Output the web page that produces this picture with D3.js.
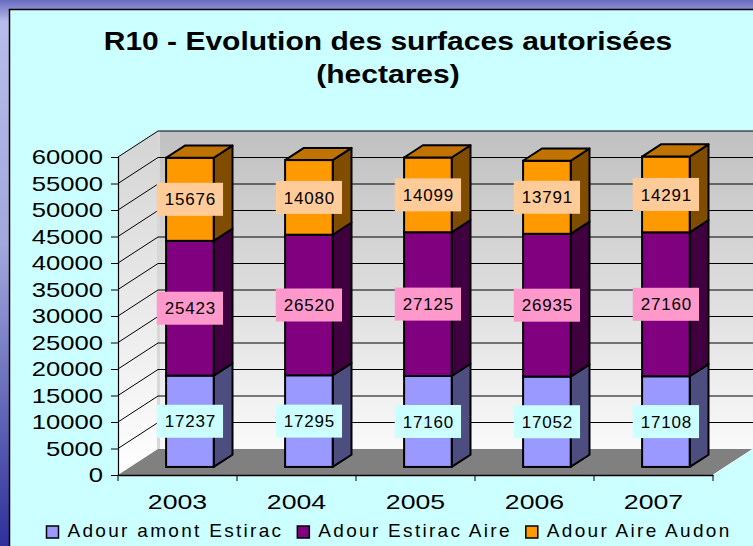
<!DOCTYPE html>
<html>
<head>
<meta charset="utf-8">
<script src="https://cdn.jsdelivr.net/npm/d3@7"></script>
<style>
  html, body { margin: 0; padding: 0; overflow: hidden; background: #fff; }
  text { font-family: Arial, "Liberation Sans", sans-serif; fill: #000; }
</style>
</head>
<body>
<svg id="chart" width="753" height="546"></svg>
<script>
// ── Data ───────────────────────────────────────────────────
const years        = ['2003', '2004', '2005', '2006', '2007'];
const seriesNames  = ['Adour amont Estirac', 'Adour Estirac Aire', 'Adour Aire Audon'];
const amontEstirac = [17237, 17295, 17160, 17052, 17108];
const estiracAire  = [25423, 26520, 27125, 26935, 27160];
const aireAudon    = [15676, 14080, 14099, 13791, 14291];
const yTickValues  = [0, 5000, 10000, 15000, 20000, 25000, 30000, 35000, 40000, 45000, 50000, 55000, 60000];

// ── Layout / style ─────────────────────────────────────────
const W = 753, H = 546;
const PLOT_L = 118, PLOT_R = 713;   // front edge of the floor
const PLOT_B = 475, PLOT_T = 157;   // front plane, 0 .. 60000
const DEPTH_X = 40, DEPTH_Y = 26;   // 3D depth offset of the walls
const BAR_F = 0.31, BAR_B = 0.78;   // bar front/back as a fraction of depth
const BAR_W = 0.4;                  // bar width as fraction of band
const TEXT_STRETCH = 1.22;          // the source picture has wide glyphs

const FRONT = ['#9999FF', '#800080', '#FF9900'];
const SIDE  = ['#4D4D80', '#400040', '#804D00'];
const TOP   = ['#8080D0', '#600060', '#C07300'];
const LABEL_BG = ['#CCFFFF', '#FF99CC', '#FFCC99'];

// widen text glyphs horizontally
function stretchText(sel, k) {
  sel.each(function() {
    const len = this.getComputedTextLength();
    d3.select(this).attr('textLength', len * k).attr('lengthAdjust', 'spacingAndGlyphs');
  });
}

const svg = d3.select('#chart');
const defs = svg.append('defs');

const bgGrad = defs.append('linearGradient').attr('id', 'slideBg')
  .attr('x1', 0).attr('y1', 0).attr('x2', 0).attr('y2', 1);
bgGrad.append('stop').attr('offset', '0%').attr('stop-color', '#6A6CC0');
bgGrad.append('stop').attr('offset', '4%').attr('stop-color', '#B8BCEA');
bgGrad.append('stop').attr('offset', '45%').attr('stop-color', '#A0A8DC');
bgGrad.append('stop').attr('offset', '100%').attr('stop-color', '#30309A');

const wallGrad = defs.append('linearGradient').attr('id', 'wallGrad')
  .attr('x1', 0).attr('y1', 0).attr('x2', 0).attr('y2', 1);
wallGrad.append('stop').attr('offset', '0%').attr('stop-color', '#C0C0C0');
wallGrad.append('stop').attr('offset', '100%').attr('stop-color', '#FAFAFA');

const sideWallGrad = defs.append('linearGradient').attr('id', 'sideWallGrad')
  .attr('x1', 0).attr('y1', 0).attr('x2', 0).attr('y2', 1);
sideWallGrad.append('stop').attr('offset', '0%').attr('stop-color', '#D4D4D4');
sideWallGrad.append('stop').attr('offset', '100%').attr('stop-color', '#FFFFFF');

// ── Background ─────────────────────────────────────────────
svg.append('rect').attr('width', W).attr('height', H).attr('fill', 'url(#slideBg)');
svg.append('rect')
  .attr('x', 9.5).attr('y', 9.5).attr('width', W + 20).attr('height', H + 20)
  .attr('fill', '#CCFFFF').attr('stroke', '#000').attr('stroke-width', 1.5);

// ── Title ──────────────────────────────────────────────────
const titleLines = ['R10 - Evolution des surfaces autorisées', '(hectares)'];
svg.append('g').selectAll('text').data(titleLines).enter().append('text')
  .attr('x', 388).attr('y', (d, i) => 50 + i * 33)
  .attr('text-anchor', 'middle')
  .style('font-size', '25px').style('font-weight', 'bold')
  .text(d => d)
  .call(stretchText, 1.2);

// ── Scales ─────────────────────────────────────────────────
const x = d3.scaleBand().domain(years).range([PLOT_L, PLOT_R]).padding(0);
const y = d3.scaleLinear().domain([0, 60000]).range([PLOT_B, PLOT_T]);

const rows = years.map((yr, i) => ({
  year: yr, s0: amontEstirac[i], s1: estiracAire[i], s2: aireAudon[i]
}));
const stacked = d3.stack().keys(['s0', 's1', 's2'])(rows);

// ── Walls & floor ──────────────────────────────────────────
const wallTop = y(60000) - DEPTH_Y;
const wallBot = y(0) - DEPTH_Y;

svg.append('rect')
  .attr('x', PLOT_L + DEPTH_X).attr('y', wallTop)
  .attr('width', W - PLOT_L - DEPTH_X + 5).attr('height', wallBot - wallTop)
  .attr('fill', 'url(#wallGrad)');

svg.append('path')
  .attr('d', `M${PLOT_L},${y(60000)} L${PLOT_L + DEPTH_X},${wallTop} L${PLOT_L + DEPTH_X},${wallBot} L${PLOT_L},${y(0)} Z`)
  .attr('fill', 'url(#sideWallGrad)');

// light edge at the back corner
svg.append('rect')
  .attr('x', PLOT_L + DEPTH_X - 1).attr('y', wallTop)
  .attr('width', 3).attr('height', wallBot - wallTop)
  .attr('fill', '#D8D8D8');

// gridlines: back wall + left wall
const grid = svg.append('g').attr('class', 'grid');
yTickValues.filter(v => v > 0).forEach(v => {
  const yy = y(v);
  grid.append('line')
    .attr('x1', PLOT_L + DEPTH_X).attr('x2', W + 5)
    .attr('y1', yy - DEPTH_Y).attr('y2', yy - DEPTH_Y)
    .attr('stroke', '#000').attr('stroke-width', 1);
  grid.append('line')
    .attr('x1', PLOT_L).attr('y1', yy)
    .attr('x2', PLOT_L + DEPTH_X).attr('y2', yy - DEPTH_Y)
    .attr('stroke', '#000').attr('stroke-width', 1);
});

svg.append('path')
  .attr('d', `M${PLOT_L},${y(0)} L${PLOT_R},${y(0)} L${PLOT_R + DEPTH_X},${wallBot} L${PLOT_L + DEPTH_X},${wallBot} Z`)
  .attr('fill', '#808080');
svg.append('line')
  .attr('x1', PLOT_R).attr('y1', y(0))
  .attr('x2', PLOT_R + DEPTH_X).attr('y2', wallBot)
  .attr('stroke', '#E8FFFF').attr('stroke-width', 1);

// ── Axes ───────────────────────────────────────────────────
const yAxis = svg.append('g')
  .attr('transform', `translate(${PLOT_L},0)`)
  .call(d3.axisLeft(y).tickValues(yTickValues).tickSize(7).tickPadding(8).tickFormat(d3.format('d')));
yAxis.select('.domain').attr('stroke', '#000').attr('stroke-width', 1.2);
yAxis.selectAll('.tick line').attr('stroke', '#000');
yAxis.selectAll('.tick text')
  .style('font-size', '21px').attr('fill', '#000')
  .call(stretchText, TEXT_STRETCH);

const xAxis = svg.append('g')
  .attr('transform', `translate(0,${PLOT_B})`)
  .call(d3.axisBottom(x).tickSize(0).tickPadding(19));
xAxis.select('.domain').attr('stroke', '#000').attr('stroke-width', 1.5);
xAxis.selectAll('.tick text')
  .style('font-size', '21px').attr('fill', '#000')
  .call(stretchText, 1.27);

// category separators on the x axis
const sepX = years.map(yr => x(yr)).concat([x.range()[1]]);
svg.append('g').selectAll('line').data(sepX).enter().append('line')
  .attr('x1', d => d).attr('x2', d => d)
  .attr('y1', PLOT_B).attr('y2', PLOT_B + 6)
  .attr('stroke', '#000').attr('stroke-width', 1);

// ── Bars ───────────────────────────────────────────────────
const bw = x.bandwidth() * BAR_W;
const offX = DEPTH_X * BAR_F, offY = DEPTH_Y * BAR_F;
const bdx = DEPTH_X * (BAR_B - BAR_F), bdy = DEPTH_Y * (BAR_B - BAR_F);

const barsG = svg.append('g').attr('class', 'bars');
years.forEach((yr, i) => {
  const x0 = x(yr) + (x.bandwidth() - bw) / 2 + offX;
  const g = barsG.append('g');
  stacked.forEach((layer, si) => {
    const d = layer[i];
    const yB = y(d[0]) - offY;
    const yT = y(d[1]) - offY;
    g.append('path')
      .attr('d', `M${x0 + bw},${yT} L${x0 + bw + bdx},${yT - bdy} L${x0 + bw + bdx},${yB - bdy} L${x0 + bw},${yB} Z`)
      .attr('fill', SIDE[si]).attr('stroke', '#000').attr('stroke-width', 2).attr('stroke-linejoin', 'round');
    g.append('rect')
      .attr('x', x0).attr('y', yT).attr('width', bw).attr('height', yB - yT)
      .attr('fill', FRONT[si]).attr('stroke', '#000').attr('stroke-width', 2);
    if (si === stacked.length - 1) {
      g.append('path')
        .attr('d', `M${x0},${yT} L${x0 + bdx},${yT - bdy} L${x0 + bw + bdx},${yT - bdy} L${x0 + bw},${yT} Z`)
        .attr('fill', TOP[si]).attr('stroke', '#000').attr('stroke-width', 2).attr('stroke-linejoin', 'round');
    }
  });
});

// ── Data labels ────────────────────────────────────────────
const labelsG = svg.append('g').attr('class', 'labels');
years.forEach((yr, i) => {
  const cx = x(yr) + x.bandwidth() / 2 + offX;
  stacked.forEach((layer, si) => {
    const d = layer[i];
    const cy = (y(d[0]) + y(d[1])) / 2 - offY;
    const lg = labelsG.append('g');
    const bg = lg.append('rect').attr('fill', LABEL_BG[si]);
    const t = lg.append('text')
      .attr('x', cx + 0.4).attr('y', cy)
      .attr('text-anchor', 'middle').attr('dy', '0.36em')
      .style('font-size', '17px').style('letter-spacing', '0.8px')
      .text(d.data['s' + si]);
    const tw = t.node().getComputedTextLength();
    const bwid = tw + 15, bh = 33;
    bg.attr('x', cx - bwid / 2).attr('y', cy - bh / 2).attr('width', bwid).attr('height', bh);
  });
});

// ── Legend ─────────────────────────────────────────────────
const legend = svg.append('g').attr('class', 'legend');
let lx = 0;
seriesNames.forEach((name, si) => {
  const item = legend.append('g').attr('transform', `translate(${lx},0)`);
  item.append('rect')
    .attr('x', 0).attr('y', -11).attr('width', 12).attr('height', 12)
    .attr('fill', FRONT[si]).attr('stroke', '#000').attr('stroke-width', 1.5);
  const t = item.append('text')
    .attr('x', 21).attr('y', 0)
    .style('font-size', '19px').style('letter-spacing', '2.3px')
    .text(name);
  lx += 21 + t.node().getComputedTextLength() + 14;
});
const legendW = lx - 14;
legend.attr('transform', `translate(${389 - legendW / 2},537)`);
</script>
</body>
</html>
